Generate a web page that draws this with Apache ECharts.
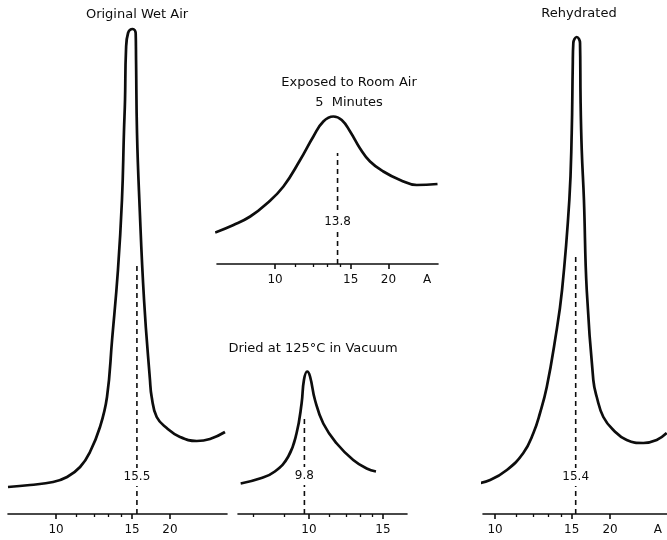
<!DOCTYPE html>
<html>
<head>
<meta charset="utf-8">
<script src="https://cdn.jsdelivr.net/npm/echarts@6/dist/echarts.min.js"></script>
<style>
  html, body { margin: 0; padding: 0; background: #fff; }
  #chart { width: 667px; height: 540px; }
</style>
</head>
<body>
<div id="chart"></div>
<script>
// X-ray diffraction traces: lattice spacing d (Å) against relative intensity.
const wetSpacing = [8.26, 8.98, 9.87, 10.51, 11.18, 11.75, 12.39, 12.88, 13.26, 13.73, 14.07, 14.25, 14.34, 14.43, 14.62, 15.07, 15.37, 15.41, 15.51, 15.76, 16.29, 17.01, 17.23, 17.91, 19.44, 21.92, 26.12, 30.81, 38.64];
const wetIntensity = [5.4, 5.8, 6.4, 7.4, 9.4, 12.4, 17.4, 23.4, 34.8, 48.8, 62.8, 76.8, 82.8, 92.8, 96.2, 97, 96.2, 90.8, 76.2, 62.8, 42.8, 26.8, 23.4, 19.4, 17.2, 15.4, 14.6, 15, 16.4];

const exposedSpacing = [7.91, 8.45, 9.01, 9.65, 10.38, 11.24, 12.03, 12.70, 13.46, 14.16, 14.94, 15.99, 17.20, 19.13, 22.27, 26.63, 35.23];
const exposedIntensity = [6.3, 7.8, 9.5, 12.1, 15.5, 20.8, 25.5, 28.5, 29.5, 28.8, 26.5, 23.1, 20.5, 18.5, 16.8, 15.8, 16];

const driedSpacing = [7.65, 8.19, 8.67, 9.15, 9.47, 9.68, 9.78, 9.92, 10.05, 10.28, 10.69, 11.43, 12.49, 13.51, 14.32];
const driedIntensity = [6.1, 7.1, 8.5, 11.5, 16.1, 22.1, 26.8, 28.5, 27.5, 22.8, 18.1, 14.1, 10.8, 9.1, 8.5];

const rehydSpacing = [9.14, 9.79, 10.54, 11.40, 12.00, 12.43, 12.90, 13.53, 14.11, 14.77, 15.00, 15.10, 15.16, 15.51, 15.86, 15.92, 16.05, 16.30, 16.63, 17.46, 17.93, 18.90, 20.59, 23.40, 28.15, 33.67, 39.45];
const rehydIntensity = [6, 6.8, 8.8, 12.2, 16.2, 20.2, 25.4, 34.8, 44.8, 62.8, 76.2, 89.4, 94.2, 95.4, 94.2, 82.8, 72.8, 62.8, 44.8, 26.8, 23.4, 19.4, 16.8, 14.8, 14.2, 14.8, 16.2];

// Peak positions (Å) marked by the dashed lines
const peakSpacings = [15.5, 13.8, 9.8, 15.4];

// Axis tick labels (Å)
const majorTicksWide = [10, 15, 20];
const majorTicksNarrow = [10, 15];
const minorTicksWide = [11, 12, 13, 14];
const minorTicksNarrow = [8, 9, 11, 12, 13, 14];

const panelTitles = ['Original Wet Air', 'Exposed to Room Air\n5  Minutes', 'Dried at 125°C in Vacuum', 'Rehydrated'];

const INK = '#0d0d0d';
const FONT = '"DejaVu Sans", sans-serif';

// The d-spacing axis is linear in 1/d, so values are plotted as reciprocals.
const inv = d => 1 / d;
const pairs = (xs, ys) => xs.map((d, i) => [inv(d), ys[i]]);

const panels = [
  { spacing: wetSpacing, intensity: wetIntensity, peak: peakSpacings[0],
    grid: { left: 8, width: 219, top: 14, height: 500 }, yMax: 100, span: [8.26, 40],
    major: majorTicksWide, minor: minorTicksWide, dashTop: 50.2, labelLevel: 7.4, unitAt: null },
  { spacing: exposedSpacing, intensity: exposedIntensity, peak: peakSpacings[1],
    grid: { left: 217, width: 221, top: 64, height: 200 }, yMax: 40, span: [7.96, 35.5],
    major: majorTicksWide, minor: minorTicksWide, dashTop: 22.2, labelLevel: 8.4, unitAt: 30.3 },
  { spacing: driedSpacing, intensity: driedIntensity, peak: peakSpacings[2],
    grid: { left: 238, width: 169, top: 314, height: 200 }, yMax: 40, span: [7.58, 17.9],
    major: majorTicksNarrow, minor: minorTicksNarrow, dashTop: 19.8, labelLevel: 7.6, unitAt: null },
  { spacing: rehydSpacing, intensity: rehydIntensity, peak: peakSpacings[3],
    grid: { left: 483, right: 0, top: 14, height: 500 }, yMax: 100, span: [9.5, 39.66],
    major: majorTicksWide, minor: minorTicksWide, dashTop: 51.4, labelLevel: 7.4, unitAt: 34.3 }
];

const grids = [], xAxes = [], yAxes = [], series = [];

panels.forEach((p, i) => {
  grids.push(p.grid);
  const base = {
    type: 'value', gridIndex: i, inverse: true, position: 'bottom', offset: 0,
    min: inv(p.span[1]), max: inv(p.span[0]),
    splitLine: { show: false }
  };
  const labelValues = p.major.map(inv);
  if (p.unitAt) labelValues.push(inv(p.unitAt));
  xAxes.push(Object.assign({}, base, {
    axisLine: { show: true, lineStyle: { color: INK, width: 1.6 } },
    axisTick: { show: true, customValues: p.major.map(inv), length: 5, lineStyle: { color: INK, width: 1.6 } },
    axisLabel: {
      show: true, customValues: labelValues, margin: 10,
      color: INK, fontFamily: FONT, fontSize: 12,
      formatter: v => (p.unitAt && Math.abs(v - inv(p.unitAt)) < 1e-9) ? 'A' : String(Math.round(1 / v))
    }
  }));
  xAxes.push(Object.assign({}, base, {
    axisLine: { show: false },
    axisTick: { show: true, customValues: p.minor.map(inv), length: 3, lineStyle: { color: INK, width: 1.3 } },
    axisLabel: { show: false }
  }));
  yAxes.push({ type: 'value', gridIndex: i, min: 0, max: p.yMax, show: false });

  // diffraction trace
  series.push({
    type: 'line', xAxisIndex: 2 * i, yAxisIndex: i,
    data: pairs(p.spacing, p.intensity),
    smooth: 0.45, showSymbol: false, clip: false, silent: true,
    lineStyle: { color: INK, width: 2.7 }
  });
  // dashed peak marker
  series.push({
    type: 'line', xAxisIndex: 2 * i, yAxisIndex: i, z: 2,
    data: [[inv(p.peak), 0], [inv(p.peak), p.dashTop]],
    showSymbol: false, silent: true,
    lineStyle: { color: INK, width: 1.6, type: [5, 4] }
  });
  // peak value label on a white patch that interrupts the dashed line
  series.push({
    type: 'scatter', xAxisIndex: 2 * i, yAxisIndex: i, z: 5,
    data: [[inv(p.peak), p.labelLevel]],
    symbol: 'rect', symbolSize: [String(p.peak).length * 7 + 4, 18],
    itemStyle: { color: '#fff', opacity: 1 }, silent: true,
    label: {
      show: true, position: 'inside', formatter: String(p.peak),
      color: INK, fontFamily: FONT, fontSize: 12
    }
  });
});

const titleText = (text, x, y) => ({
  type: 'text', x, y,
  style: { text, fill: INK, font: '13px ' + FONT, align: 'center', verticalAlign: 'middle', lineHeight: 20 }
});

const chart = echarts.init(document.getElementById('chart'), null, { renderer: 'canvas' });
chart.setOption({
  animation: false,
  backgroundColor: '#fff',
  grid: grids,
  xAxis: xAxes,
  yAxis: yAxes,
  series,
  graphic: [
    titleText(panelTitles[0], 137, 15),
    titleText(panelTitles[1], 349, 93),
    titleText(panelTitles[2], 313, 349),
    titleText(panelTitles[3], 579, 14)
  ]
});
</script>
</body>
</html>
